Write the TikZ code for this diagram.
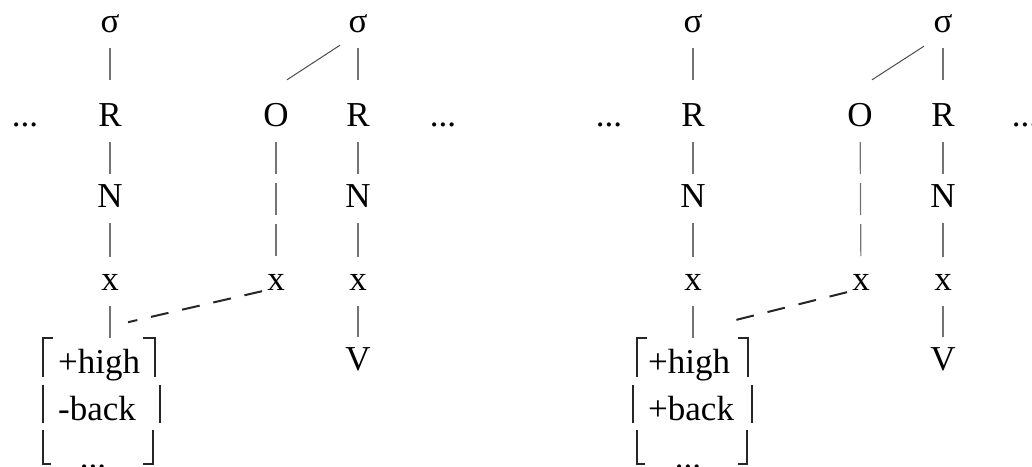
\documentclass[tikz,border=0pt]{standalone}
\usepackage{fontspec}
\setmainfont{Liberation Serif}
\begin{document}
\begin{tikzpicture}[
  x=1pt, y=1pt,
  lab/.style={inner sep=0pt, anchor=base, text height=23pt, text depth=0pt,
              font=\fontsize{35}{42}\selectfont},
  row/.style={inner sep=0pt, anchor=base west, font=\fontsize{35}{42}\selectfont},
  tie/.style={draw=black!55, line width=1.2pt, shorten <=16pt, shorten >=10pt},
  toptie/.style={tie, shorten >=23pt},
  stack/.style={tie, dash pattern=on 32pt off 9pt},
  slant/.style={draw=black!70, line width=1pt},
  link/.style={draw=black!85, line width=2pt, dash pattern=on 18pt off 14pt},
  brk/.style={draw=black!85, line width=1.8pt},
  fbox/.style={inner sep=0pt, minimum width=112pt, minimum height=128pt, anchor=north west}
]
\useasboundingbox (0,0) rectangle (1032,-466);
\clip (0,0) rectangle (1032,-466);

% ---------- first structure ----------
\node[lab] (dA1) at (25,-126) {...};
\node[lab] (sA) at (110,-32) {σ};
\node[lab] (RA) at (110,-126) {R};
\node[lab] (NA) at (110,-207) {N};
\node[lab] (xA) at (110,-290) {x};
\node[lab] (OA) at (276,-126) {O};
\node[lab] (xOA) at (276,-290) {x};
\node[lab] (sB) at (358,-32) {σ};
\node[lab] (RB) at (358,-126) {R};
\node[lab] (NB) at (358,-207) {N};
\node[lab] (xB) at (358,-290) {x};
\node[lab] (VB) at (358,-370) {V};
\node[lab] (dA2) at (443,-126) {...};

\node[fbox] (fmA) at (43,-338) {};
\node[row] (hA) at (58,-373) {+high};
\node[row] (bA) at (58,-420) {-back};
\node[lab] (eA) at (93,-468) {...};

\draw[toptie] (sA) -- (RA);
\draw[tie] (RA) -- (NA);
\draw[tie] (NA) -- (xA);
\draw[tie, shorten >=0pt] (xA) -- (xA |- fmA.north);
\draw[stack] (OA) -- (xOA);
\draw[toptie] (sB) -- (RB);
\draw[tie] (RB) -- (NB);
\draw[tie] (NB) -- (xB);
\draw[tie] (xB) -- (VB);
\draw[slant] ([shift={(-18,-13)}]sB.south) -- ([shift={(11,23)}]OA.north);
\draw[link] ([shift={(-14,-1)}]xOA.south) -- ([shift={(18,-32)}]xA.south);

% feature brackets
\draw[brk] (53,-338) -- (43,-338) -- (43,-377);
\draw[brk] (43,-385) -- (43,-423);
\draw[brk] (43,-430) -- (43,-464) -- (51,-464);
\draw[brk] (143,-338) -- (155,-338) -- (155,-377);
\draw[brk] (160,-385) -- (160,-423);
\draw[brk] (143,-464) -- (153,-464) -- (153,-430);

% ---------- second structure ----------
\node[lab] (dC1) at (609,-126) {...};
\node[lab] (sC) at (693,-32) {σ};
\node[lab] (RC) at (693,-126) {R};
\node[lab] (NC) at (693,-207) {N};
\node[lab] (xC) at (693,-290) {x};
\node[lab] (OC) at (860,-126) {O};
\node[lab] (xOC) at (861,-290) {x};
\node[lab] (sD) at (943,-32) {σ};
\node[lab] (RD) at (943,-126) {R};
\node[lab] (ND) at (943,-207) {N};
\node[lab] (xD) at (943,-290) {x};
\node[lab] (VD) at (943,-370) {V};
\node[lab] (dC2) at (1025,-126) {...};

\node[fbox] (fmC) at (636,-338) {};
\node[row] (hC) at (648,-373) {+high};
\node[row] (bC) at (648,-420) {+back};
\node[lab] (eC) at (688,-468) {...};

\draw[toptie] (sC) -- (RC);
\draw[tie] (RC) -- (NC);
\draw[tie] (NC) -- (xC);
\draw[tie, shorten >=0pt] (xC) -- (xC |- fmC.north);
\draw[stack] (OC) -- (xOC);
\draw[toptie] (sD) -- (RD);
\draw[tie] (RD) -- (ND);
\draw[tie] (ND) -- (xD);
\draw[tie] (xD) -- (VD);
\draw[slant] ([shift={(-19,-14)}]sD.south) -- ([shift={(12,23)}]OC.north);
\draw[link] ([shift={(-14,-2)}]xOC.south) -- ([shift={(34,-32)}]xC.south);

% feature brackets
\draw[brk] (647,-338) -- (637,-338) -- (637,-377);
\draw[brk] (633,-385) -- (633,-423);
\draw[brk] (637,-430) -- (637,-464) -- (645,-464);
\draw[brk] (738,-338) -- (748,-338) -- (748,-377);
\draw[brk] (752,-385) -- (752,-423);
\draw[brk] (738,-464) -- (747,-464) -- (747,-430);
\end{tikzpicture}
\end{document}
